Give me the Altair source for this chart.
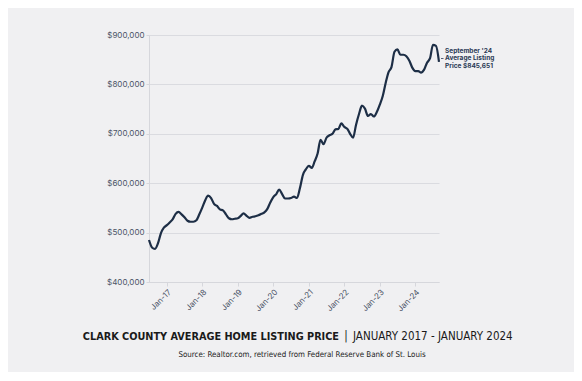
import altair as alt
import pandas as pd

# Monthly average listing price, Clark County (Jul 2016 - Sep 2024)
months = list(pd.date_range("2016-07-01", periods=99, freq="MS").strftime("%Y-%m-%d"))
prices = [
    485000, 470000, 467000, 478000, 499000, 510000,
    515000, 521000, 527000, 538000, 542000, 537000, 531000, 524000, 522000, 522000, 525000, 537000,
    551000, 566000, 575000, 570000, 558000, 554000, 547000, 545000, 537000, 529000, 527000, 528000,
    529000, 534000, 539000, 534000, 530000, 532000, 533000, 535000, 538000, 541000, 548000, 561000,
    572000, 578000, 587000, 578000, 569000, 569000, 570000, 573000, 570000, 590000, 617000, 628000,
    635000, 631000, 644000, 660000, 688000, 679000, 692000, 697000, 700000, 709000, 710000, 721000,
    714000, 710000, 700000, 692000, 718000, 740000, 757000, 751000, 736000, 740000, 735000, 744000,
    759000, 777000, 802000, 825000, 835000, 866000, 871000, 860000, 860000, 857000, 848000, 834000,
    827000, 827000, 824000, 830000, 844000, 853000, 880000, 878000, 845651,
]
y_ticks = [400000, 500000, 600000, 700000, 800000, 900000]
x_tick_years = [2017, 2018, 2019, 2020, 2021, 2022, 2023, 2024]

title_bold = "CLARK COUNTY AVERAGE HOME LISTING PRICE"
title_sep = "|"
title_regular = "JANUARY 2017 - JANUARY 2024"
source_text = "Source: Realtor.com, retrieved from Federal Reserve Bank of St. Louis"
annotation = ["September '24", "Average Listing", "Price $845,651"]

df = pd.DataFrame({"date": months, "price": prices})

W, H = 290, 247
LINE = "#1d2e46"
LABEL = "#4a5366"
AXIS_FONT = "Inter"
NARROW = "'DejaVu Sans Condensed', Roboto, sans-serif"

x_enc = alt.X(
    "date:T",
    scale=alt.Scale(type="utc", domain=[alt.DateTime(year=2016, month=7, date=1, utc=True),
                                       alt.DateTime(year=2024, month=9, date=1, utc=True)]),
    axis=alt.Axis(
        title=None,
        values=[alt.DateTime(year=y, month=1, date=1, utc=True) for y in x_tick_years],
        labelExpr="'Jan-' + utcFormat(datum.value, '%y')",
        labelAngle=-45, labelAlign="right", labelBaseline="top",
        labelFont=AXIS_FONT, labelFontSize=8, labelColor=LABEL,
        grid=False, domainColor="#d6d7dc", tickColor="#d6d7dc", tickSize=4, labelPadding=2,
    ),
)
y_enc = alt.Y(
    "price:Q",
    scale=alt.Scale(domain=[400000, 900000], nice=False, zero=False),
    axis=alt.Axis(
        title=None, values=y_ticks, format="$,.0f",
        labelFont=AXIS_FONT, labelFontSize=8, labelColor=LABEL,
        gridColor="#dadbe0", domainColor="#d6d7dc", tickColor="#d6d7dc",
        tickSize=3, labelPadding=2,
    ),
)

line = alt.Chart(df).mark_line(color=LINE, strokeWidth=2.2, interpolate="monotone").encode(x=x_enc, y=y_enc)

one = pd.DataFrame({"k": [0]})

def txt(text, x, y, align, size, weight, font, color="#1a1a1a"):
    return alt.Chart(one).mark_text(
        text=text, align=align, baseline="middle", fontSize=size, fontWeight=weight,
        font=font, color=color,
    ).encode(x=alt.value(x), y=alt.value(y))

ann = [txt(t, 296, 15.5 + 7.5 * i, "left", 6.5, "bold", AXIS_FONT, "#2b3a55") for i, t in enumerate(annotation)]
dash = alt.Chart(one).mark_rule(color="#2b3a55", strokeWidth=0.8).encode(
    x=alt.value(292), x2=alt.value(294.5), y=alt.value(23.5))

titles = [
    txt(title_bold, 190, 302, "right", 10.8, "bold", NARROW),
    txt(title_sep, 197, 302, "center", 11.5, "normal", NARROW),
    txt(title_regular, 204, 302, "left", 11.5, "normal", NARROW),
    txt(source_text, 153, 320, "center", 7.9, "normal", NARROW),
]

chart = alt.layer(line, dash, *ann, *titles).properties(
    width=W, height=H,
    autosize=alt.AutoSizeParams(type="none"),
    padding={"left": 141, "top": 27, "right": 135, "bottom": 90},
    background="#f0f0f2",
).configure_view(stroke=None)

chart.save("out.html", embed_options={"renderer": "svg", "actions": False})
